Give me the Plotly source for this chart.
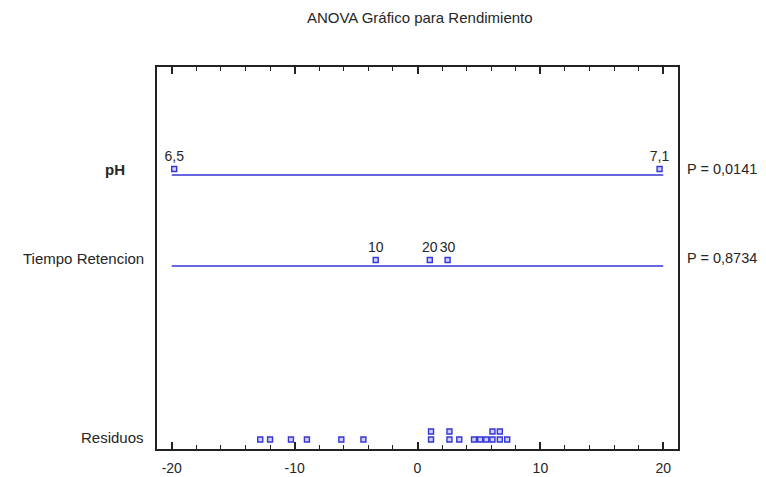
import plotly.graph_objects as go
from collections import Counter

# Scaled factor effects (level labels and their positions on the effect scale)
ph_levels = ["6,5", "7,1"]
ph_effects = [-19.8, 19.7]
tiempo_levels = ["10", "20", "30"]
tiempo_effects = [-3.4, 1.0, 2.45]
p_values = ["P = 0,0141", "P = 0,8734"]
factor_names = ["pH", "Tiempo Retencion", "Residuos"]

# Residuals (identical values are stacked)
residuos = [-12.8, -12.0, -10.3, -9.0, -6.2, -4.4,
            1.1, 1.1, 2.6, 2.6, 3.4, 4.6, 5.1, 5.6,
            6.1, 6.1, 6.7, 6.7, 7.3]

x_ticks = [-20, -10, 0, 10, 20]

BLUE = "#3535d8"
FILL = "#cfcfff"
TXT = "#262626"
FONT = "Liberation Sans"

# vertical layout of the rows (in axis units = pixels above the bottom axis)
Y_PH, Y_TR = 274, 183
MARK_OFF = 6
Y_RES0, RES_STEP = 9.5, 8

fig = go.Figure()

marker = dict(symbol="square", size=5, color=FILL, line=dict(color=BLUE, width=1.4))

for y_row, effects, labels in [(Y_PH, ph_effects, ph_levels),
                               (Y_TR, tiempo_effects, tiempo_levels)]:
    fig.add_trace(go.Scatter(x=[-20, 20], y=[y_row, y_row], mode="lines",
                             line=dict(color=BLUE, width=1.5),
                             hoverinfo="skip", showlegend=False))
    fig.add_trace(go.Scatter(x=effects, y=[y_row + MARK_OFF] * len(effects),
                             mode="markers+text", text=labels,
                             textposition="top center",
                             textfont=dict(family=FONT, size=14, color=TXT),
                             marker=marker, showlegend=False))

# stacked residual dots
seen = Counter()
res_y = []
for r in residuos:
    res_y.append(Y_RES0 + seen[r] * RES_STEP)
    seen[r] += 1
fig.add_trace(go.Scatter(x=residuos, y=res_y, mode="markers",
                         marker=marker, showlegend=False))

# row labels on the left and p-values on the right
label_rows = [("<b>" + factor_names[0] + "</b>", Y_PH + MARK_OFF, -30, 15),
              (factor_names[1], Y_TR + MARK_OFF + 2, -11, 15),
              (factor_names[2], Y_RES0 + 2, -11, 15)]
annotations = []
for name, yv, shift, sz in label_rows:
    annotations.append(dict(x=0, xref="paper", y=yv, yref="y", text=name,
                            xanchor="right", yanchor="middle", xshift=shift,
                            showarrow=False,
                            font=dict(family=FONT, size=sz, color=TXT)))
for pv, yv in zip(p_values, [Y_PH + MARK_OFF, Y_TR + MARK_OFF + 2]):
    annotations.append(dict(x=1, xref="paper", y=yv, yref="y", text=pv,
                            xanchor="left", yanchor="middle", xshift=7,
                            showarrow=False,
                            font=dict(family=FONT, size=14.5, color=TXT)))

fig.update_layout(
    width=766, height=477,
    margin=dict(l=157, r=88, t=67, b=28, autoexpand=False),
    paper_bgcolor="white", plot_bgcolor="white",
    title=dict(text="ANOVA Gráfico para Rendimiento", x=0.548, xanchor="center",
               y=0.962, yanchor="middle",
               font=dict(family=FONT, size=15, color=TXT)),
    annotations=annotations,
    showlegend=False,
)
fig.update_xaxes(range=[-21.2, 21.2], tickvals=x_ticks,
                 ticktext=[str(v) for v in x_ticks],
                 ticks="inside", ticklen=7, tickwidth=1.5, tickcolor="#222",
                 minor=dict(dtick=2, ticks="inside", ticklen=4, tickwidth=1,
                            tickcolor="#222"),
                 ticklabelstandoff=5, automargin=False,
                 showline=True, linecolor="#222", linewidth=1.5, mirror="ticks",
                 showgrid=False, zeroline=False,
                 tickfont=dict(family=FONT, size=14, color=TXT))
fig.update_yaxes(range=[0, 382], showline=True, linecolor="#222", linewidth=1.5,
                 mirror=True, showticklabels=False, ticks="", showgrid=False,
                 zeroline=False, automargin=False)

fig.write_html("out.html")
